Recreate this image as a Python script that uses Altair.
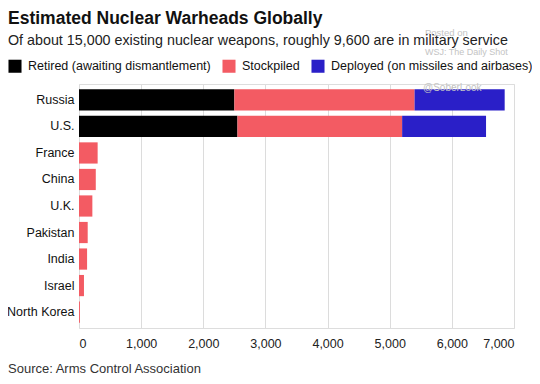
import altair as alt
import pandas as pd

countries = ["Russia", "U.S.", "France", "China", "U.K.", "Pakistan", "India", "Israel", "North Korea"]
retired = [2500, 2550, 0, 0, 0, 0, 0, 0, 0]
stockpiled = [2900, 2650, 300, 270, 215, 140, 130, 80, 15]
deployed = [1450, 1350, 0, 0, 0, 0, 0, 0, 0]

categories = ["Retired (awaiting dismantlement)", "Stockpiled", "Deployed (on missiles and airbases)"]
colors = ["#000000", "#f35b63", "#2a1fc8"]
x_ticks = [0, 1000, 2000, 3000, 4000, 5000, 6000, 7000]

title_text = "Estimated Nuclear Warheads Globally"
subtitle_text = "Of about 15,000 existing nuclear weapons, roughly 9,600 are in military service"
source_text = "Source: Arms Control Association"

rows = []
for i, c in enumerate(countries):
    for k, (cat, vals) in enumerate(zip(categories, [retired, stockpiled, deployed])):
        rows.append({"country": c, "category": cat, "value": vals[i], "order": k})
df = pd.DataFrame(rows)

FONT = "Liberation Sans"

bars = alt.Chart(df).mark_bar().encode(
    y=alt.Y("country:N", sort=countries, title=None,
            scale=alt.Scale(paddingInner=0.2, paddingOuter=0.2),
            axis=alt.Axis(domain=False, ticks=False, labelFontSize=12.5, labelColor="#111",
                          labelPadding=5, labelFont=FONT, labelLimit=0)),
    x=alt.X("value:Q", stack="zero", title=None,
            scale=alt.Scale(domain=[0, 7000], nice=False),
            axis=alt.Axis(values=x_ticks, format=",d", domain=False, ticks=False, grid=True,
                          gridColor="#dcdcdc", labelFontSize=12.5, labelColor="#222",
                          labelPadding=9, labelFont=FONT)),
    color=alt.Color("category:N", sort=categories,
                    scale=alt.Scale(domain=categories, range=colors),
                    legend=alt.Legend(title=None, orient="none", direction="horizontal",
                                      legendX=-71, legendY=-25, symbolType="square",
                                      symbolSize=170, symbolStrokeWidth=0, symbolOpacity=1,
                                      labelFontSize=12.5, labelColor="#111", labelFont=FONT,
                                      columnPadding=11, labelOffset=6, labelLimit=0)),
    order=alt.Order("order:Q"),
)

wm = pd.DataFrame({"t": ["Posted on", "WSJ: The Daily Shot", "@SoberLook"],
                   "x": [346, 346, 344], "y": [-51, -32, 4], "s": [9.5, 9, 10]})
watermark = alt.Chart(wm).mark_text(align="left", baseline="middle", color="#c4c4c4",
                                    font=FONT).encode(
    text="t:N", x=alt.X("x:Q", scale=None), y=alt.Y("y:Q", scale=None),
    size=alt.Size("s:Q", scale=None, legend=None))

title = alt.Chart(pd.DataFrame({"t": [title_text]})).mark_text(
    align="left", baseline="middle", fontSize=17.5, fontWeight="bold", color="#111", font=FONT
).encode(text="t:N", x=alt.value(-71), y=alt.value(-65))

subtitle = alt.Chart(pd.DataFrame({"t": [subtitle_text]})).mark_text(
    align="left", baseline="middle", fontSize=14.3, color="#222", font=FONT
).encode(text="t:N", x=alt.value(-71), y=alt.value(-43))

source = alt.Chart(pd.DataFrame({"t": [source_text]})).mark_text(
    align="left", baseline="middle", fontSize=13, color="#333", font=FONT
).encode(text="t:N", x=alt.value(-71), y=alt.value(285))

chart = alt.layer(bars, watermark, title, subtitle, source).properties(
    width=435, height=244,
    autosize=alt.AutoSizeParams(type="none"),
    padding={"left": 71, "top": 76, "right": 18, "bottom": 48},
).configure_view(stroke=None).configure(background="white")

chart.save("out.html", embed_options={"renderer": "svg", "actions": False})
